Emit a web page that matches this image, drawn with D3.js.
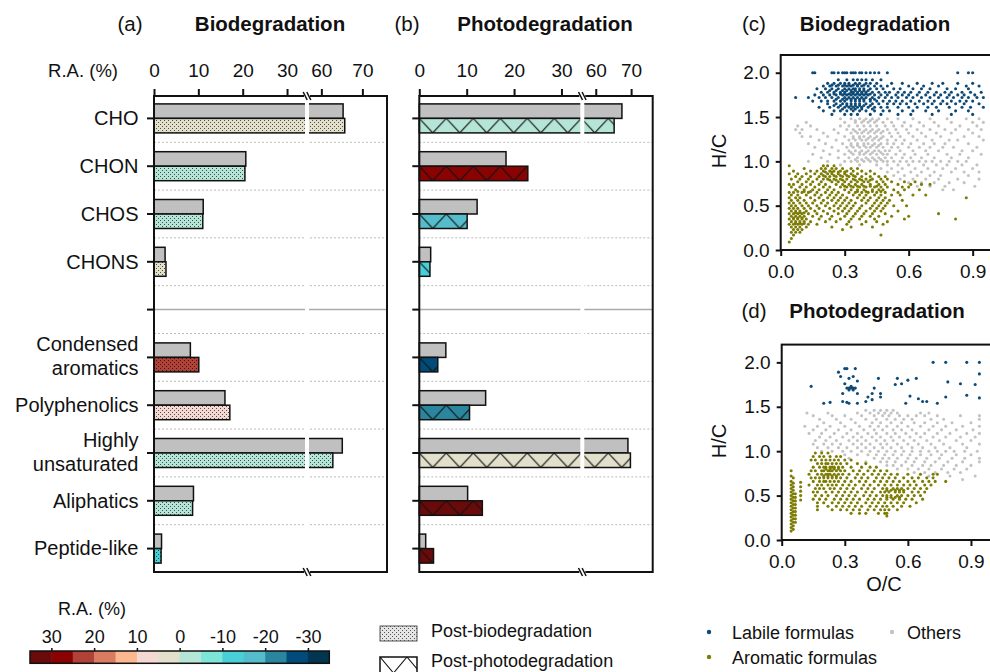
<!DOCTYPE html>
<html><head><meta charset="utf-8">
<script src="https://cdn.jsdelivr.net/npm/d3@7"></script>
<style>
body{margin:0;background:#fff}
svg{font-family:Arial,"Liberation Sans",sans-serif}
</style></head><body>
<svg id="fig" width="990" height="672"></svg>
<script>
// bar panels
const categories = ['CHO', 'CHON', 'CHOS', 'CHONS', 'gap', 'Condensed aromatics', 'Polyphenolics', 'Highly unsaturated', 'Aliphatics', 'Peptide-like'];
const bioBefore = [65.3, 20.7, 11.1, 2.5, null, 8.2, 16.0, 65.1, 8.9, 1.7];
const bioAfter = [65.7, 20.5, 11.0, 2.7, null, 10.1, 17.1, 62.8, 8.7, 1.6];
const bioChange = [0.6, -1, -1.5, 2, null, 23, 7, -3.5, -2.5, -12];
const photoBefore = [67.4, 18.3, 12.2, 2.4, null, 5.6, 14.0, 69.1, 10.2, 1.35];
const photoAfter = [65.2, 22.9, 10.1, 2.25, null, 3.9, 10.6, 69.8, 13.3, 3.0];
const photoChange = [-3, 26, -17, -12, null, -28, -23, 1, 31, 120];
const barTicks = [0, 10, 20, 30, 60, 70];

// colour bar (left to right = high to low)
const cbColors = ['#6b0a0a', '#8b0202', '#b04238', '#d97c62', '#fbb88e', '#f3d9d2', '#e2dfcb',
  '#b5e5d6', '#7de6d8', '#48cfd8', '#55bccb', '#2a869f', '#004b7a', '#02354f'];
const cbTicks = [30, 20, 10, 0, -10, -20, -30];

// van Krevelen points: [H/C, [O/C ...]] rows, or [O/C, [H/C ...]] columns
const labileC = [
  [2.00, [.15, .16, .24, .25, .27, .29, .30, .31, .33, .34, .35, .37, .38, .40, .42, .44, .46, .50, .83, .88, .90]],
  [1.92, [.27, .31, .34, .36, .38, .40, .43, .47]],
  [1.88, [.22, .25, .28, .30, .32, .35, .37, .40, .42, .45, .52, .57, .64, .71, .76, .83, .90]],
  [1.86, [.24, .27, .30, .32, .34, .36, .39]],
  [1.85, [.20, .23, .26, .29, .31, .33, .36, .38, .41, .44, .47, .50, .60, .67, .74, .87, .93]],
  [1.82, [.17, .21, .24, .27, .30, .32, .34, .35, .37, .39, .42, .45, .48, .53, .56, .62, .66, .70, .78, .82, .88]],
  [1.80, [.23, .26, .29, .31, .33, .35, .37, .39, .41]],
  [1.78, [.19, .22, .25, .28, .30, .33, .34, .36, .38, .40, .43, .46, .49, .51, .55, .58, .61, .65, .69, .73, .77, .80, .85, .89, .94]],
  [1.76, [.25, .28, .30, .32, .34, .36, .38, .40, .42]],
  [1.75, [.16, .20, .23, .26, .29, .31, .33, .35, .37, .39, .41, .44, .47, .50, .54, .57, .60, .64, .68, .72, .75, .79, .83, .86, .91]],
  [1.72, [.07, .13, .18, .21, .24, .27, .30, .32, .34, .36, .38, .40, .43, .46, .49, .52, .55, .59, .62, .66, .70, .74, .78, .81, .85, .88, .92, .95]],
  [1.70, [.26, .29, .31, .33, .35, .37, .39, .42, .44]],
  [1.68, [.15, .19, .22, .25, .28, .30, .33, .35, .37, .39, .42, .45, .48, .51, .54, .57, .61, .65, .69, .72, .76, .80, .84, .87, .90]],
  [1.65, [.22, .26, .29, .31, .33, .35, .37, .40, .43, .46, .50, .53, .56, .59, .63, .67, .71, .75, .78, .82, .86, .93]],
  [1.63, [.25, .28, .31, .33, .35, .37, .39, .42]],
  [1.61, [.18, .23, .27, .30, .32, .34, .36, .38, .41, .44, .47, .50, .55, .60, .64, .69, .73, .79, .85, .89, .95]],
  [1.59, [.29, .33, .35, .38, .43]],
  [1.57, [.20, .25, .28, .31, .34, .37, .40, .44, .48, .51, .57, .62, .68, .74, .82, .88]],
  [1.53, [.24, .30, .33, .36, .42, .47, .55, .61, .71, .80, .90]]
];
const othersC = [
  [1.48, [.28, .33, .37, .40, .43, .46, .50, .55, .62, .70, .78, .87, .93]],
  [1.46, [.35, .39, .42, .45]],
  [1.44, [.12, .30, .35, .38, .41, .44, .48, .52, .58, .65, .72, .80, .90, .95]],
  [1.40, [.08, .14, .28, .32, .36, .39, .42, .45, .49, .53, .57, .61, .67, .74, .84, .92]],
  [1.36, [.07, .10, .17, .25, .31, .34, .37, .40, .43, .46, .50, .54, .59, .64, .70, .77, .82, .88, .94]],
  [1.34, [.35, .39, .42, .45, .48]],
  [1.32, [.09, .20, .27, .33, .36, .38, .41, .44, .47, .51, .55, .60, .66, .73, .80, .90]],
  [1.28, [.10, .14, .22, .30, .34, .37, .39, .42, .45, .48, .52, .56, .62, .68, .75, .86, .93]],
  [1.26, [.34, .37, .41, .44, .47]],
  [1.24, [.18, .26, .32, .35, .38, .40, .43, .46, .50, .54, .58, .64, .71, .79, .83, .95]],
  [1.20, [.13, .21, .29, .33, .36, .39, .41, .44, .47, .50, .53, .57, .61, .67, .72, .77, .88]],
  [1.18, [.33, .36, .39, .43, .46]],
  [1.16, [.16, .24, .31, .34, .37, .40, .42, .45, .48, .52, .55, .60, .65, .70, .76, .81, .92]],
  [1.12, [.20, .27, .32, .35, .38, .41, .44, .46, .49, .51, .56, .62, .68, .74, .85, .90]],
  [1.10, [.33, .37, .40, .43, .47]],
  [1.08, [.15, .23, .30, .34, .37, .39, .42, .45, .48, .50, .54, .58, .63, .69, .78, .84, .94]],
  [1.04, [.19, .27, .32, .36, .40, .43, .46, .49, .52, .57, .61, .66, .72, .80, .88]],
  [1.02, [.35, .38, .41, .44, .47]],
  [1.00, [.13, .22, .30, .33, .36, .39, .42, .45, .48, .50, .53, .56, .59, .62, .65, .68, .71, .75, .79, .83, .87]],
  [0.96, [.28, .37, .45, .50, .55, .60, .67, .73, .78, .85, .92]],
  [0.92, [.47, .52, .57, .63, .69, .76, .82, .90]],
  [0.88, [.50, .55, .61, .66, .72, .80, .86, .93]],
  [0.84, [.53, .58, .64, .70, .75, .88]],
  [0.80, [.56, .62, .68, .74, .83, .93]],
  [0.76, [.60, .66, .72, .79, .86]],
  [0.72, [.64, .70, .77, .91]],
  [0.68, [.76, .81]]
];
const aromaticC = [
  [0.95, [.04, .20, .22, .25]],
  [0.92, [.11, .19, .21, .24, .26, .29, .33, .36]],
  [0.89, [.06, .14, .17, .20, .23, .25, .28, .31, .34, .38, .42]],
  [0.88, [.21, .24, .27, .30]],
  [0.86, [.04, .08, .12, .16, .19, .22, .24, .27, .30, .33, .36, .40, .44]],
  [0.84, [.20, .25, .28, .31, .34]],
  [0.83, [.07, .10, .14, .18, .21, .23, .26, .29, .32, .35, .38, .42, .46, .49]],
  [0.80, [.05, .09, .13, .17, .20, .22, .25, .28, .31, .34, .37, .40, .43, .47, .50]],
  [0.79, [.23, .26, .29, .35, .38, .42]],
  [0.77, [.08, .12, .15, .19, .24, .27, .30, .33, .36, .39, .41, .45, .48, .52, .58, .63]],
  [0.74, [.04, .06, .10, .14, .18, .21, .26, .29, .32, .35, .38, .42, .46, .49, .55, .61, .66, .70]],
  [0.72, [.30, .33, .36, .39, .42, .45]],
  [0.71, [.05, .09, .12, .16, .20, .23, .28, .31, .34, .37, .40, .44, .47, .50, .57, .60]],
  [0.68, [.07, .11, .15, .18, .22, .25, .30, .33, .36, .39, .43, .46, .48, .53, .58, .65]],
  [0.66, [.08, .11, .14, .36, .40, .43, .47]],
  [0.65, [.04, .06, .10, .13, .17, .21, .24, .27, .32, .35, .38, .41, .45, .49, .55]],
  [0.62, [.05, .08, .12, .16, .19, .23, .26, .29, .34, .37, .40, .44, .47, .52, .56, .62, .68]],
  [0.59, [.04, .07, .09, .14, .18, .22, .25, .28, .31, .36, .39, .42, .46, .49, .87]],
  [0.56, [.05, .08, .11, .16, .20, .24, .27, .30, .33, .38, .41, .45, .48, .51, .57]],
  [0.53, [.04, .06, .09, .12, .15, .19, .22, .26, .29, .32, .35, .40, .44, .47, .50]],
  [0.50, [.05, .07, .10, .13, .17, .21, .25, .28, .31, .34, .38, .43, .46, .49, .53, .59]],
  [0.47, [.04, .06, .08, .11, .14, .18, .23, .27, .30, .33, .37, .42, .45, .48]],
  [0.44, [.05, .07, .09, .12, .16, .20, .25, .29, .32, .36, .40, .44, .47, .55]],
  [0.42, [.07, .09, .11]],
  [0.41, [.04, .06, .08, .10, .13, .17, .22, .27, .31, .35, .39, .43, .49, .74]],
  [0.38, [.05, .07, .09, .11, .15, .19, .24, .30, .34, .38, .42, .46, .52, .60]],
  [0.36, [.06, .08, .10]],
  [0.35, [.04, .06, .08, .10, .12, .18, .23, .28, .33, .37, .44, .58, .82]],
  [0.32, [.05, .07, .09, .11, .14, .21, .26, .32, .40, .45, .50]],
  [0.30, [.07, .09, .11]],
  [0.29, [.04, .06, .08, .10, .13, .17, .31, .38, .48]],
  [0.26, [.05, .07, .09, .12, .24, .33, .43]],
  [0.23, [.06, .08, .10, .29]],
  [0.20, [.05, .07, .09]],
  [0.17, [.06, .47]],
  [0.13, [.05]],
  [0.09, [.04]]
];
const labileD = [
  [2.00, [.72, .78, .88, .94]],
  [1.93, [.30, .31, .35]],
  [1.89, [.27]],
  [1.87, [.94]],
  [1.84, [.28, .34]],
  [1.82, [.32, .46, .55, .64]],
  [1.80, [.60]],
  [1.79, [.36]],
  [1.78, [.79]],
  [1.76, [.30, .57, .85]],
  [1.75, [.54, .92]],
  [1.73, [.14, .33]],
  [1.71, [.31, .32, .33, .34, .35, .44]],
  [1.69, [.32, .34]],
  [1.65, [.29, .36, .43, .47]],
  [1.63, [.88]],
  [1.62, [.61]],
  [1.61, [.41, .47, .78]],
  [1.60, [.94]],
  [1.59, [.65]],
  [1.58, [.43]],
  [1.56, [.29, .40, .67, .69]],
  [1.55, [.23, .31]],
  [1.54, [.20, .32, .36, .59, .74]]
];
const othersD = [
  [1.46, [.40, .44, .47, .50, .53]],
  [1.43, [.12, .22, .36, .42, .46, .49, .52, .55, .66, .70]],
  [1.40, [.15, .24, .30, .38, .44, .48, .51, .56, .60, .64, .68, .74, .85, .94]],
  [1.36, [.18, .26, .33, .40, .45, .50, .54, .58, .62, .71, .77, .94]],
  [1.32, [.20, .28, .35, .43, .47, .52, .57, .63, .68, .74, .81, .90]],
  [1.28, [.11, .17, .23, .30, .37, .42, .46, .50, .55, .60, .66, .72, .78, .86, .94]],
  [1.24, [.15, .21, .27, .33, .39, .44, .48, .53, .57, .62, .70, .76, .83, .91]],
  [1.20, [.13, .19, .25, .31, .36, .41, .45, .50, .54, .59, .64, .68, .74, .80, .88, .94]],
  [1.16, [.18, .23, .29, .34, .38, .43, .47, .52, .56, .61, .66, .72, .78, .85, .92]],
  [1.12, [.16, .21, .26, .32, .36, .40, .45, .49, .53, .58, .63, .69, .75, .83, .90]],
  [1.08, [.15, .20, .24, .28, .34, .38, .42, .47, .50, .55, .60, .65, .71, .77, .86, .94]],
  [1.04, [.17, .22, .27, .31, .36, .40, .44, .48, .52, .57, .62, .67, .73, .80, .88]],
  [1.00, [.19, .24, .29, .33, .38, .42, .46, .50, .54, .58, .62, .66, .70, .74, .78, .82, .87, .93]],
  [0.96, [.30, .36, .41, .45, .49, .53, .57, .61, .66, .71, .76, .83, .90]],
  [0.92, [.32, .44, .48, .51, .55, .60, .64, .69, .75, .81, .87, .94]],
  [0.88, [.40, .47, .50, .54, .59, .63, .68, .73, .79, .86, .94]],
  [0.84, [.50, .53, .57, .62, .67, .71, .77, .83, .90]],
  [0.80, [.55, .60, .65, .70, .76, .82, .88]],
  [0.76, [.63, .68, .73, .79, .85]],
  [0.72, [.70, .80, .92]],
  [0.68, [.86]]
];
const aromaticD = [
  [0.98, [.16, .19, .22]],
  [0.94, [.15, .18, .20, .23, .26, .28]],
  [0.90, [.14, .16, .19, .21, .23, .25, .27, .30, .33]],
  [0.86, [.17, .19, .21, .22, .24, .26, .28, .31, .36, .40]],
  [0.82, [.15, .18, .20, .21, .23, .24, .25, .27, .29, .33, .38, .42, .45]],
  [0.80, [.21, .23, .25, .27]],
  [0.78, [.14, .16, .19, .20, .22, .23, .24, .26, .28, .30, .34, .37, .41, .44, .47, .50]],
  [0.74, [.13, .17, .19, .21, .22, .23, .25, .27, .29, .32, .36, .39, .43, .46, .49, .52, .55, .60, .66, .72, .74]],
  [0.72, [.20, .22, .24, .26]],
  [0.70, [.14, .16, .18, .20, .22, .24, .26, .28, .31, .35, .38, .41, .45, .48, .51, .54, .58, .62, .65, .69, .72]],
  [0.66, [.15, .18, .20, .21, .23, .25, .27, .30, .33, .37, .40, .44, .47, .50, .53, .56, .60, .63, .67, .70, .73, .78]],
  [0.62, [.13, .17, .19, .22, .24, .26, .29, .32, .35, .39, .42, .46, .49, .52, .55, .58, .61, .64, .68, .71]],
  [0.58, [.16, .18, .20, .23, .25, .28, .31, .34, .38, .41, .44, .48, .50, .53, .55, .57, .60, .63, .66, .69]],
  [0.56, [.50, .52, .54, .56, .58]],
  [0.54, [.15, .17, .21, .24, .27, .30, .33, .36, .40, .43, .47, .49, .51, .54, .56, .58, .62, .65, .68]],
  [0.50, [.16, .19, .22, .26, .29, .32, .35, .39, .42, .45, .48, .50, .52, .55, .57, .60, .63, .66]],
  [0.48, [.50, .52, .54, .56]],
  [0.46, [.15, .18, .21, .25, .28, .31, .34, .37, .41, .44, .47, .50, .53, .56, .59, .62, .67]],
  [0.42, [.17, .20, .24, .27, .30, .33, .36, .40, .43, .46, .49, .52, .55, .58, .64]],
  [0.38, [.17, .22, .26, .29, .32, .35, .38, .42, .45, .48, .50, .53, .57, .61]],
  [0.34, [.17, .24, .28, .31, .34, .37, .41, .44, .47, .49, .51, .55]],
  [0.30, [.33, .37, .40, .46, .49, .50]],
  [0.27, [.50]]
];
const aromaticDcols = [
  [.045, [.10, .14, .18, .22, .26, .30, .34, .38, .42, .46, .50, .54, .58, .62, .66, .72, .78]],
  [.055, [.12, .16, .20, .24, .28, .32, .36, .40, .44, .48, .52, .56, .60, .64, .70]],
  [.065, [.20, .24, .28, .32, .36, .40, .44, .48, .52]],
  [.09, [.45, .50, .55, .60, .65]]
];

const svg = d3.select('#fig');
const defs = svg.append('defs');
const fsLab = 20, fsTick = 19, fsLeg = 18, fsTitle = 20.5;

const fromRows = rows => rows.flatMap(([h, os]) => os.map(o => [o, h]));
const fromCols = cols => cols.flatMap(([o, hs]) => hs.map(h => [o, h]));

// change -> colour, thresholds ascending
const colorScale = d3.scaleThreshold()
  .domain([-30, -25, -20, -15, -10, -5, 0, 5, 10, 15, 20, 25, 30])
  .range(cbColors.slice().reverse());

// stipple pattern
const stip = defs.append('pattern').attr('id', 'stipple')
  .attr('patternUnits', 'userSpaceOnUse').attr('width', 4).attr('height', 4);
stip.append('rect').attr('x', 0).attr('y', 0).attr('width', 1).attr('height', 1).attr('fill', 'rgba(0,0,0,0.65)');
stip.append('rect').attr('x', 2).attr('y', 2).attr('width', 1).attr('height', 1).attr('fill', 'rgba(0,0,0,0.65)');

let yBand = d3.scaleBand().domain(d3.range(categories.length)).range([94.5, 572.5]);
let barH = 14.5;
let plotTop = 96, plotBottom = 572;
let cy = i => yBand(i) + yBand.bandwidth() / 2;

function zigzag(id, x0, y0, h) {
  let p = defs.append('pattern').attr('id', id)
    .attr('patternUnits', 'userSpaceOnUse')
    .attr('x', x0).attr('y', y0).attr('width', 27).attr('height', h);
  p.append('path').attr('d', `M0,0L13.5,${h}L27,0`)
    .attr('fill', 'none').attr('stroke', '#111').attr('stroke-width', 1.1);
}

function barPanel(opt) {
  let x = opt.x;
  let g = svg.append('g');
  let x0 = x(0), x1 = x.range()[3];

  // dotted separators
  g.selectAll('.grid').data(d3.range(1, categories.length)).enter()
    .append('line')
    .attr('x1', x0).attr('x2', x1)
    .attr('y1', i => yBand(i)).attr('y2', i => yBand(i))
    .attr('stroke', '#bbb').attr('stroke-width', 1).attr('stroke-dasharray', '2,2');

  g.append('line')
    .attr('x1', x0).attr('x2', x1)
    .attr('y1', cy(4)).attr('y2', cy(4))
    .attr('stroke', '#aaa').attr('stroke-width', 1.5);

  let idx = d3.range(categories.length).filter(i => opt.before[i] != null);

  g.selectAll('.before').data(idx).enter()
    .append('rect')
    .attr('x', x0).attr('y', i => cy(i) - barH)
    .attr('width', i => x(opt.before[i]) - x0).attr('height', barH)
    .attr('fill', '#c0c0c0').attr('stroke', '#111').attr('stroke-width', 1.5);

  g.selectAll('.after').data(idx).enter()
    .append('rect')
    .attr('x', x0).attr('y', i => cy(i))
    .attr('width', i => x(opt.after[i]) - x0).attr('height', barH)
    .attr('fill', i => colorScale(opt.change[i]));

  if (opt.kind === 'dots') {
    g.selectAll('.afterPat').data(idx).enter()
      .append('rect')
      .attr('x', x0).attr('y', i => cy(i))
      .attr('width', i => x(opt.after[i]) - x0).attr('height', barH)
      .attr('fill', 'url(#stipple)');
  } else {
    idx.forEach(i => zigzag(`zz${i}`, x0, cy(i), barH));
    g.selectAll('.afterPat').data(idx).enter()
      .append('rect')
      .attr('x', x0).attr('y', i => cy(i))
      .attr('width', i => x(opt.after[i]) - x0).attr('height', barH)
      .attr('fill', i => `url(#zz${i})`);
  }
  g.selectAll('.afterOut').data(idx).enter()
    .append('rect')
    .attr('x', x0).attr('y', i => cy(i))
    .attr('width', i => x(opt.after[i]) - x0).attr('height', barH)
    .attr('fill', 'none').attr('stroke', '#111').attr('stroke-width', 1.5);

  // axis break gap
  let xb = x.range()[1];
  g.append('rect').attr('x', xb - 2).attr('y', plotTop + 2).attr('width', 4).attr('height', plotBottom - plotTop - 4)
    .attr('fill', '#fff');

  // frame
  g.append('rect').attr('x', x0).attr('y', plotTop).attr('width', x1 - x0).attr('height', plotBottom - plotTop)
    .attr('fill', 'none').attr('stroke', '#111').attr('stroke-width', 2);

  // top axis
  let ax = g.append('g').attr('transform', `translate(0,${plotTop})`)
    .call(d3.axisTop(x).tickValues(barTicks).tickSize(7).tickPadding(12));
  ax.select('.domain').remove();
  ax.selectAll('line').attr('stroke', '#111').attr('stroke-width', 2);
  ax.selectAll('text').attr('font-size', fsTick).attr('fill', '#111');

  // left ticks
  let ay = g.append('g').attr('transform', `translate(${x0},0)`)
    .call(d3.axisLeft(yBand).tickSize(7).tickFormat(''));
  ay.select('.domain').remove();
  ay.selectAll('line').attr('stroke', '#111').attr('stroke-width', 2);

  // break marks
  [plotTop, plotBottom].forEach(yy => {
    g.append('rect').attr('x', xb - 3).attr('y', yy - 3).attr('width', 6).attr('height', 6).attr('fill', '#fff');
    [-1.8, 1.8].forEach(dx => {
      g.append('line')
        .attr('x1', xb + dx - 2).attr('y1', yy - 4)
        .attr('x2', xb + dx + 2).attr('y2', yy + 4)
        .attr('stroke', '#111').attr('stroke-width', 1.5);
    });
  });

  // titles
  svg.append('text').attr('x', opt.tagX).attr('y', 30.5).attr('text-anchor', 'middle')
    .attr('font-size', fsTitle).attr('fill', '#111').text(opt.tag);
  svg.append('text').attr('x', opt.titleX).attr('y', 30.5).attr('text-anchor', 'middle')
    .attr('font-size', fsTitle).attr('font-weight', 'bold').attr('fill', '#111').text(opt.title);
}

let xA = d3.scaleLinear().domain([0, 34.5, 56.5, 76]).range([154, 307, 307, 387]);
let xB = d3.scaleLinear().domain([0, 34.4, 56.2, 76.1]).range([419.3, 582.3, 582.3, 652.7]);

barPanel({ x: xA, before: bioBefore, after: bioAfter, change: bioChange, kind: 'dots',
  tag: '(a)', tagX: 130, title: 'Biodegradation', titleX: 270 });
barPanel({ x: xB, before: photoBefore, after: photoAfter, change: photoChange, kind: 'zig',
  tag: '(b)', tagX: 407, title: 'Photodegradation', titleX: 545 });

svg.append('text').attr('x', 118).attr('y', 77).attr('text-anchor', 'end')
  .attr('font-size', 18.5).attr('fill', '#111').text('R.A. (%)');

// category labels
categories.forEach((c, i) => {
  if (c === 'gap') return;
  let lines = c.includes(' ') ? c.split(' ') : [c];
  let t = svg.append('text').attr('text-anchor', 'end').attr('font-size', fsLab).attr('fill', '#111');
  if (lines.length === 1) {
    t.attr('x', 138.5).attr('y', cy(i) + 6.8).text(c);
  } else {
    t.append('tspan').attr('x', 138.5).attr('y', cy(i) - 6).text(lines[0]);
    t.append('tspan').attr('x', 138.5).attr('y', cy(i) + 17.5).text(lines[1]);
  }
});

// colour bar legend
let cbX = d3.scaleLinear().domain([35, -35]).range([30, 329.3]);
let cbg = svg.append('g');
cbg.selectAll('rect').data(cbColors).enter().append('rect')
  .attr('x', (d, i) => cbX(35 - 5 * i)).attr('y', 651)
  .attr('width', cbX(30) - cbX(35) + 0.5).attr('height', 12.3)
  .attr('fill', d => d);
cbg.append('rect').attr('x', 30).attr('y', 651).attr('width', 299.3).attr('height', 12.3)
  .attr('fill', 'none').attr('stroke', '#111').attr('stroke-width', 1.5);
let cba = cbg.append('g').attr('transform', 'translate(0,651)')
  .call(d3.axisTop(cbX).tickValues(cbTicks).tickFormat(d => String(d)).tickSize(3).tickPadding(5));
cba.select('.domain').remove();
cba.selectAll('line').attr('stroke', '#111').attr('stroke-width', 1.5);
cba.selectAll('text').attr('font-size', fsLeg).attr('fill', '#111');
svg.append('text').attr('x', 92).attr('y', 615).attr('text-anchor', 'middle')
  .attr('font-size', fsLeg).attr('fill', '#111').text('R.A. (%)');

// pattern legend
svg.append('rect').attr('x', 380).attr('y', 626).attr('width', 37).attr('height', 15)
  .attr('fill', '#e6e6e6');
svg.append('rect').attr('x', 380).attr('y', 626).attr('width', 37).attr('height', 15)
  .attr('fill', 'url(#stipple)').attr('stroke', '#555').attr('stroke-width', 1);
svg.append('text').attr('x', 431).attr('y', 637).attr('font-size', fsLeg).attr('fill', '#111')
  .text('Post-biodegradation');
zigzag('zzLeg', 380, 657, 16);
svg.append('rect').attr('x', 380).attr('y', 657).attr('width', 37).attr('height', 16)
  .attr('fill', 'url(#zzLeg)').attr('stroke', '#111').attr('stroke-width', 1.5);
svg.append('text').attr('x', 431).attr('y', 667).attr('font-size', fsLeg).attr('fill', '#111')
  .text('Post-photodegradation');

// van Krevelen panels
const cLab = '#0e4a77', cOth = '#c3c3c3', cAro = '#7d7d05';

function vk(opt) {
  let x = d3.scaleLinear().domain([0, 1]).range(opt.xr);
  let y = d3.scaleLinear().domain([0, 2.2]).range(opt.yr);
  let g = svg.append('g');
  let sets = [[opt.oth, cOth], [opt.aro, cAro], [opt.lab, cLab]];
  sets.forEach(([pts, col]) => {
    g.append('g').selectAll('circle').data(pts).enter().append('circle')
      .attr('cx', d => x(d[0])).attr('cy', d => y(d[1])).attr('r', 1.55)
      .attr('fill', col);
  });
  g.append('rect').attr('x', x(0)).attr('y', y(2.2)).attr('width', x(1) - x(0) + 5)
    .attr('height', y(0) - y(2.2)).attr('fill', 'none').attr('stroke', '#111').attr('stroke-width', 2);
  let ay = g.append('g').attr('transform', `translate(${x(0)},0)`)
    .call(d3.axisLeft(y).tickValues([0, 0.5, 1, 1.5, 2]).tickFormat(d3.format('.1f')).tickSize(5).tickPadding(6));
  let ax = g.append('g').attr('transform', `translate(0,${y(0)})`)
    .call(d3.axisBottom(x).tickValues([0, 0.3, 0.6, 0.9]).tickFormat(d3.format('.1f')).tickSize(6).tickPadding(9));
  [ax, ay].forEach(a => {
    a.select('.domain').remove();
    a.selectAll('line').attr('stroke', '#111').attr('stroke-width', 2);
    a.selectAll('text').attr('font-size', fsTick).attr('fill', '#111');
  });
  svg.append('text').attr('transform', `translate(726,${opt.hcY}) rotate(-90)`)
    .attr('text-anchor', 'middle').attr('font-size', fsLab).attr('fill', '#111').text('H/C');
  svg.append('text').attr('x', 754).attr('y', opt.titleY).attr('text-anchor', 'middle')
    .attr('font-size', fsTitle).attr('fill', '#111').text(opt.tag);
  svg.append('text').attr('x', opt.titleX).attr('y', opt.titleY).attr('text-anchor', 'middle')
    .attr('font-size', fsTitle).attr('font-weight', 'bold').attr('fill', '#111').text(opt.title);
}

vk({ xr: [780.7, 994], yr: [250, 55], lab: fromRows(labileC), oth: fromRows(othersC), aro: fromRows(aromaticC),
  tag: '(c)', title: 'Biodegradation', titleX: 875, titleY: 30.5, hcY: 151 });
vk({ xr: [781.7, 992], yr: [540, 344.6], lab: fromRows(labileD), oth: fromRows(othersD),
  aro: fromRows(aromaticD).concat(fromCols(aromaticDcols)),
  tag: '(d)', title: 'Photodegradation', titleX: 877, titleY: 318, hcY: 441 });

svg.append('text').attr('x', 884).attr('y', 591).attr('text-anchor', 'middle')
  .attr('font-size', fsLab).attr('fill', '#111').text('O/C');

// scatter legend
const vkLegend = [
  { label: 'Labile formulas', color: cLab, x: 709, y: 632, tx: 732 },
  { label: 'Others', color: cOth, x: 892, y: 632, tx: 907 },
  { label: 'Aromatic formulas', color: cAro, x: 709, y: 657, tx: 732 }
];
vkLegend.forEach(d => {
  svg.append('circle').attr('cx', d.x).attr('cy', d.y).attr('r', 2.2).attr('fill', d.color);
  svg.append('text').attr('x', d.tx).attr('y', d.y + 6.5).attr('font-size', fsLeg)
    .attr('fill', '#111').text(d.label);
});
</script>
</body></html>
